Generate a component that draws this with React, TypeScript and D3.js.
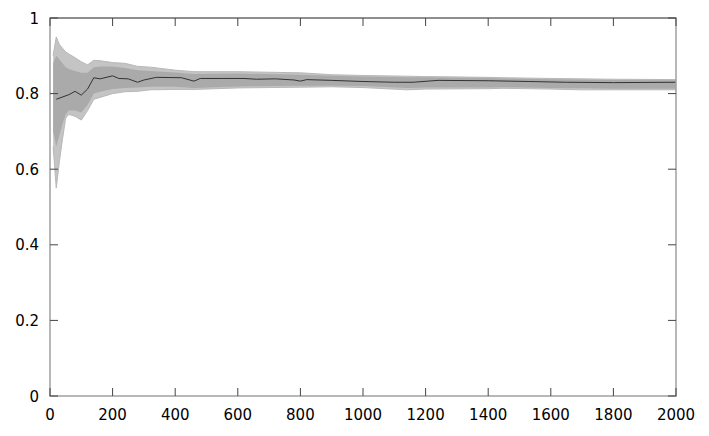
import React, { useEffect, useRef } from 'react';
import * as d3 from 'd3';

// mean curve (black)
const meanX = [20, 60, 80, 100, 120, 140, 160, 200, 220, 250, 280, 300, 340, 420, 460, 480, 550, 620, 660, 720, 780, 800, 820, 900, 1000, 1100, 1160, 1240, 1400, 1530, 1650, 1800, 2000];
const meanY = [0.785, 0.797, 0.806, 0.796, 0.812, 0.842, 0.839, 0.847, 0.840, 0.839, 0.830, 0.836, 0.843, 0.842, 0.833, 0.840, 0.840, 0.840, 0.838, 0.839, 0.836, 0.833, 0.837, 0.835, 0.832, 0.830, 0.830, 0.835, 0.834, 0.832, 0.830, 0.829, 0.830];

// spread of the resampled curves (grey), outer edge
const bandX = [10, 20, 30, 40, 50, 60, 80, 100, 120, 140, 160, 200, 240, 280, 320, 400, 460, 600, 800, 900, 1000, 1140, 1200, 1400, 1450, 1600, 1700, 1800, 2000];
const outerHi = [0.90, 0.95, 0.93, 0.92, 0.91, 0.905, 0.895, 0.884, 0.876, 0.888, 0.887, 0.882, 0.880, 0.872, 0.870, 0.862, 0.858, 0.858, 0.855, 0.850, 0.848, 0.846, 0.845, 0.843, 0.842, 0.840, 0.839, 0.838, 0.837];
const outerLo = [0.66, 0.55, 0.62, 0.68, 0.735, 0.745, 0.740, 0.730, 0.755, 0.785, 0.790, 0.800, 0.805, 0.806, 0.810, 0.811, 0.811, 0.815, 0.817, 0.818, 0.816, 0.810, 0.812, 0.813, 0.814, 0.812, 0.810, 0.810, 0.810];
// dense core
const innerHi = [0.88, 0.90, 0.89, 0.88, 0.87, 0.865, 0.86, 0.855, 0.855, 0.870, 0.872, 0.872, 0.868, 0.862, 0.860, 0.856, 0.852, 0.853, 0.850, 0.847, 0.845, 0.843, 0.843, 0.841, 0.840, 0.838, 0.837, 0.836, 0.835];
const innerLo = [0.70, 0.66, 0.69, 0.72, 0.745, 0.755, 0.755, 0.750, 0.770, 0.800, 0.805, 0.812, 0.815, 0.816, 0.818, 0.818, 0.815, 0.819, 0.821, 0.821, 0.820, 0.815, 0.816, 0.816, 0.817, 0.815, 0.814, 0.813, 0.813];

const xTicks = [0, 200, 400, 600, 800, 1000, 1200, 1400, 1600, 1800, 2000];
const yTicks = [0, 0.2, 0.4, 0.6, 0.8, 1];

const App = () => {
  const ref = useRef(null);

  useEffect(() => {
    const svg = d3.select(ref.current);
    svg.selectAll('*').remove();

    const left = 50, right = 676, top = 18, bottom = 396;
    const x = d3.scaleLinear().domain([0, 2000]).range([left, right]);
    const y = d3.scaleLinear().domain([0, 1]).range([bottom, top]);

    const band = (hi, lo) => d3.area()
      .x((d, i) => x(bandX[i]))
      .y0((d, i) => y(lo[i]))
      .y1((d, i) => y(hi[i]))(bandX);

    svg.append('path').attr('d', band(outerHi, outerLo)).attr('fill', '#c4c4c4');
    svg.append('path').attr('d', band(innerHi, innerLo)).attr('fill', '#aaaaaa');

    // edges of the grey bundle
    const edge = arr => d3.line().x((d, i) => x(bandX[i])).y((d, i) => y(arr[i]))(bandX);
    [outerHi, outerLo].forEach(a => {
      svg.append('path').attr('d', edge(a)).attr('fill', 'none')
        .attr('stroke', '#b8b8b8').attr('stroke-width', 1);
    });

    svg.append('path')
      .attr('d', d3.line().x((d, i) => x(meanX[i])).y((d, i) => y(meanY[i]))(meanX))
      .attr('fill', 'none')
      .attr('stroke', '#333')
      .attr('stroke-width', 1);

    // frame
    svg.append('rect')
      .attr('x', left).attr('y', top)
      .attr('width', right - left).attr('height', bottom - top)
      .attr('fill', 'none').attr('stroke', '#a0a0a0').attr('stroke-width', 1.5);
    svg.append('line')
      .attr('x1', left).attr('x2', right).attr('y1', top).attr('y2', top)
      .attr('stroke', '#666').attr('stroke-width', 1);

    const tk = 8;
    const g = svg.append('g').attr('stroke', '#444').attr('stroke-width', 1);
    xTicks.forEach(t => {
      g.append('line').attr('x1', x(t)).attr('x2', x(t)).attr('y1', bottom).attr('y2', bottom - tk);
      g.append('line').attr('x1', x(t)).attr('x2', x(t)).attr('y1', top).attr('y2', top + tk);
    });
    yTicks.forEach(t => {
      g.append('line').attr('x1', left).attr('x2', left + tk).attr('y1', y(t)).attr('y2', y(t));
      g.append('line').attr('x1', right).attr('x2', right - tk).attr('y1', y(t)).attr('y2', y(t));
    });

    const txt = svg.append('g')
      .attr('font-family', 'DejaVu Sans, sans-serif')
      .attr('font-size', 15)
      .attr('fill', '#000');
    xTicks.forEach(t => {
      txt.append('text').attr('x', x(t)).attr('y', 420)
        .attr('text-anchor', 'middle').text(t);
    });
    yTicks.forEach(t => {
      txt.append('text').attr('x', 39).attr('y', y(t) + 5.5)
        .attr('text-anchor', 'end').text(t);
    });
  }, []);

  return (
    <svg ref={ref} width="709" height="436"
      style={{ position: 'absolute', left: 0, top: 0, background: '#fff' }} />
  );
};

export default App;
